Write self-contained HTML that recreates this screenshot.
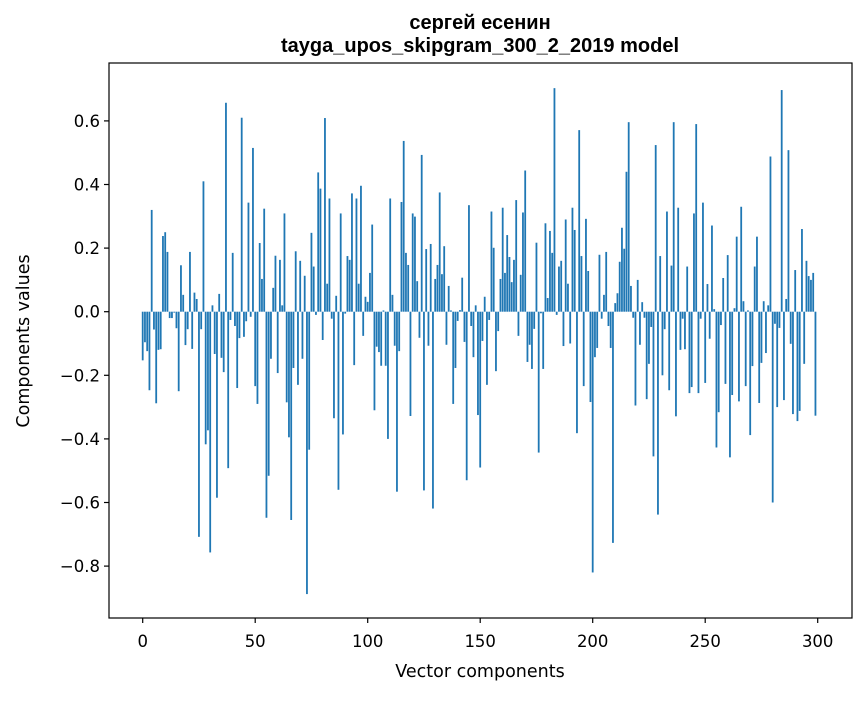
<!DOCTYPE html>
<html><head><meta charset="utf-8"><style>
html,body{margin:0;padding:0;background:#fff;}
svg text{font-family:"DejaVu Sans","Liberation Sans",sans-serif;fill:#000;}
svg text.ttl{font-family:"Liberation Sans","DejaVu Sans",sans-serif;}
</style></head><body>
<svg id="chart" width="867" height="696" viewBox="0 0 867 696" xmlns="http://www.w3.org/2000/svg">
<rect width="867" height="696" fill="#fff"/>
<text class="ttl" x="480" y="29" font-size="20" font-weight="bold" text-anchor="middle">сергей есенин</text>
<text class="ttl" x="480" y="52" font-size="20" font-weight="bold" text-anchor="middle">tayga_upos_skipgram_300_2_2019 model</text>
<g id="bars"></g>
<g id="axes"></g>
<text x="480" y="677" font-size="17.5" text-anchor="middle">Vector components</text>
<text x="0" y="0" font-size="17.5" text-anchor="middle" transform="translate(29,341) rotate(-90)">Components values</text>
</svg>
<script>
const values1 = [-0.153,-0.096,-0.124,-0.247,0.32,-0.056,-0.288,-0.12,-0.118,0.238,0.25,0.188,-0.02,-0.02,-0.003,-0.052,-0.25,0.146,0.053,-0.105,-0.055,0.188,-0.117,0.06,0.04,-0.708,-0.055,0.41,-0.417,-0.373,-0.757,0.02,-0.133,-0.585,0.056,-0.145,-0.19,0.657,-0.492,-0.026,0.185,-0.045,-0.24,-0.083,0.61,-0.079,-0.03,0.343,-0.016,0.515,-0.234,-0.29,0.216,0.103,0.324,-0.648,-0.516,-0.148,0.075,0.176,-0.193,0.163,0.02,0.309,-0.285,-0.395,-0.655,-0.177,0.19,-0.23,0.16,-0.148,0.113,-0.888];
const values2 = [-0.434,0.248,0.142,-0.01,0.438,0.387,-0.089,0.609,0.088,0.356,-0.022,-0.335,0.05,-0.56,0.309,-0.386,-0.006,0.175,0.163,0.372,-0.168,0.356,0.088,0.396,-0.076,0.047,0.031,0.122,0.274,-0.31,-0.11,-0.127,-0.17,0.004,-0.17,-0.4,0.356,0.053,-0.107,-0.566,-0.124,0.345,0.537,0.185,0.147,-0.328,0.309,0.299,0.096,-0.082,0.493,-0.562,0.197,-0.107,0.213,-0.619,0.103,0.147,0.375,0.118,0.206,-0.104,0.081,0.004,-0.29,-0.177,-0.029,0.005,0.107,-0.095,-0.53,0.335,-0.045,-0.143,0.02,-0.325];
const values3 = [-0.49,-0.092,0.047,-0.23,-0.026,0.315,0.201,-0.187,-0.061,0.103,0.327,0.122,0.241,0.172,0.093,0.163,0.351,-0.076,0.116,0.312,0.444,-0.158,-0.104,-0.18,-0.054,0.217,-0.443,-0.005,-0.18,0.278,0.043,0.254,0.185,0.703,-0.01,0.142,0.16,-0.108,0.29,0.088,-0.1,0.327,0.257,-0.382,0.571,0.175,-0.234,0.292,0.128,-0.284,-0.82,-0.143,-0.114,0.179,-0.022,0.053,0.188,-0.045,-0.114,-0.727,0.027,0.058,0.157,0.264,0.198,0.44,0.596,0.081,-0.019,-0.295,0.1,-0.104,0.03,-0.019];
const values4 = [-0.275,-0.164,-0.048,-0.455,0.524,-0.638,0.175,-0.2,-0.055,0.315,-0.247,0.145,0.596,-0.329,0.327,-0.12,-0.022,-0.118,0.142,-0.256,-0.237,0.309,0.59,-0.256,-0.022,0.343,-0.224,0.087,-0.085,0.271,0.008,-0.427,-0.316,-0.042,0.106,-0.227,0.178,-0.458,-0.262,0.011,0.236,-0.282,0.33,0.033,-0.234,0.004,-0.388,-0.171,0.142,0.236,-0.287,-0.161,0.033,-0.13,0.02,0.488,-0.6,-0.038,-0.3,-0.051,0.697,-0.278,0.04,0.508,-0.101,-0.322,0.131,-0.344,-0.312,0.26,-0.164,0.16,0.112,0.1,0.122,-0.327];
const xTicks = [0,50,100,150,200,250,300];
const yTicks = [-0.8,-0.6,-0.4,-0.2,0.0,0.2,0.4,0.6];
const values = values1.concat(values2, values3, values4);

const NS = "http://www.w3.org/2000/svg";
const L = 109, R = 852, T = 63, B = 618;
const xScale = v => 142.7 + v * 2.25;
const yScale = v => 311.7 - v * 318;

const barsG = document.getElementById('bars');
values.forEach((v, i) => {
  const r = document.createElementNS(NS, 'rect');
  const y0 = yScale(0), y1 = yScale(v);
  r.setAttribute('x', xScale(i) - 0.9);
  r.setAttribute('width', 1.8);
  r.setAttribute('y', Math.min(y0, y1));
  r.setAttribute('height', Math.max(Math.abs(y1 - y0), 0.3));
  r.setAttribute('fill', '#1f77b4');
  
  
  barsG.appendChild(r);
});

const axesG = document.getElementById('axes');
const frame = document.createElementNS(NS, 'rect');
frame.setAttribute('x', L); frame.setAttribute('y', T);
frame.setAttribute('width', R - L); frame.setAttribute('height', B - T);
frame.setAttribute('fill', 'none'); frame.setAttribute('stroke', '#000'); frame.setAttribute('stroke-width', '1.2');


axesG.appendChild(frame);

xTicks.forEach(t => {
  const x = xScale(t);
  const ln = document.createElementNS(NS, 'line');
  ln.setAttribute('x1', x); ln.setAttribute('x2', x); ln.setAttribute('y1', B); ln.setAttribute('y2', B + 5);
  ln.setAttribute('stroke', '#000'); ln.setAttribute('stroke-width', '1.2');
  
  
  axesG.appendChild(ln);
  const tx = document.createElementNS(NS, 'text');
  tx.setAttribute('x', x); tx.setAttribute('y', B + 29);
  tx.setAttribute('font-size', '16.5'); tx.setAttribute('text-anchor', 'middle');
  tx.textContent = String(t);
  
  
  axesG.appendChild(tx);
});
yTicks.forEach(t => {
  const y = yScale(t);
  const ln = document.createElementNS(NS, 'line');
  ln.setAttribute('x1', L - 5); ln.setAttribute('x2', L); ln.setAttribute('y1', y); ln.setAttribute('y2', y);
  ln.setAttribute('stroke', '#000'); ln.setAttribute('stroke-width', '1.2');
  
  
  axesG.appendChild(ln);
  const tx = document.createElementNS(NS, 'text');
  tx.setAttribute('x', L - 9); tx.setAttribute('y', y + 6);
  tx.setAttribute('font-size', '16.5'); tx.setAttribute('text-anchor', 'end');
  tx.textContent = (t < 0 ? '\u2212' : '') + Math.abs(t).toFixed(1);
  
  
  axesG.appendChild(tx);
});
</script>
</body></html>
